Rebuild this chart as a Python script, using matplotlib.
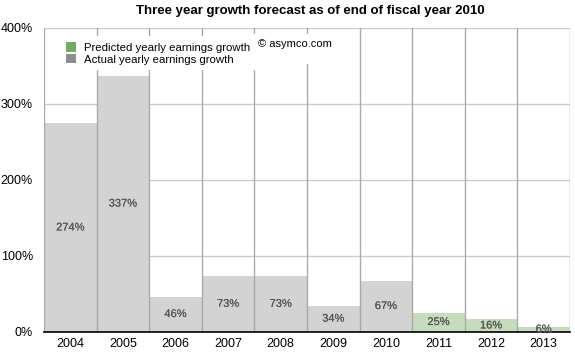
import matplotlib
matplotlib.use("Agg")
import matplotlib.pyplot as plt
import matplotlib.patheffects as pe
from matplotlib.patches import Patch, Rectangle

years = ["2004", "2005", "2006", "2007", "2008", "2009", "2010", "2011", "2012", "2013"]
growth = [274, 337, 46, 73, 73, 34, 67, 25, 16, 6]
predicted = [False, False, False, False, False, False, False, True, True, True]
yticks = [0, 100, 200, 300, 400]
ytick_labels = ["0%", "100%", "200%", "300%", "400%"]

plt.rcParams['font.family'] = ['Liberation Sans', 'DejaVu Sans']

fig = plt.figure(figsize=(5.75, 3.52), dpi=100)
ax = fig.add_axes([44/575, 1-331.5/352, (570-44)/575, (331.5-27.7)/352])

bar_gray = "#d3d3d3"
bar_green = "#c6dcbc"
xs = list(range(len(years)))
colors = [bar_green if p else bar_gray for p in predicted]
ax.bar(xs, growth, width=1.0, color=colors, zorder=2, linewidth=0)

for x, v in zip(xs, growth):
    ax.text(x, v/2, f"{v}%", ha="center", va="center", fontsize=8, color="#555555",
            zorder=5,
            path_effects=[pe.withSimplePatchShadow(offset=(0.6, -0.6), shadow_rgbFace="#aaaaaa", alpha=0.35), pe.Normal()])

ax.set_xlim(-0.5, len(years)-0.5)
ax.set_ylim(0, 400)
for y in yticks[1:]:
    ax.axhline(y, color="#cccccc", linewidth=1, zorder=1)
for b in range(len(years)+1):
    ax.axvline(b-0.5, color="#aaaaaa", linewidth=1, zorder=3)

ax.set_yticks(yticks)
ax.set_yticklabels(ytick_labels, fontsize=9)
ax.set_xticks(xs)
ax.set_xticklabels(years, fontsize=9)
ax.tick_params(axis='both', length=0)
ax.tick_params(axis='y', pad=8)
ax.tick_params(axis='x', pad=5)
for s in ["top", "right", "left"]:
    ax.spines[s].set_visible(False)
ax.spines["bottom"].set_color("black")
ax.spines["bottom"].set_linewidth(1.2)
ax.spines["bottom"].set_zorder(4)

handles = [Patch(facecolor="#74aa62", edgecolor="none", label="Predicted yearly earnings growth"),
           Patch(facecolor="#8e8e8e", edgecolor="none", label="Actual yearly earnings growth")]
leg = ax.legend(handles=handles, loc="upper left", bbox_to_anchor=(0.02, 0.99), fontsize=8.2,
                frameon=True, fancybox=False, framealpha=1, edgecolor="none",
                handlelength=0.9, handleheight=0.9, handletextpad=0.7, labelspacing=0.1,
                borderpad=0.5)
leg.set_zorder(6)

fig.patches.append(Rectangle((252/575, 1-64/352), 88/575, 30/352, transform=fig.transFigure,
                             facecolor="white", edgecolor="none", zorder=1))
fig.text(258/575, 1-44/352, "© asymco.com", fontsize=8, va="center", ha="left", zorder=2)

fig.suptitle("Three year growth forecast as of end of fiscal year 2010", x=310/575, y=1-11/352,
             va="center", fontsize=9.5, fontweight="bold")

fig.savefig("out.png", dpi=100)
